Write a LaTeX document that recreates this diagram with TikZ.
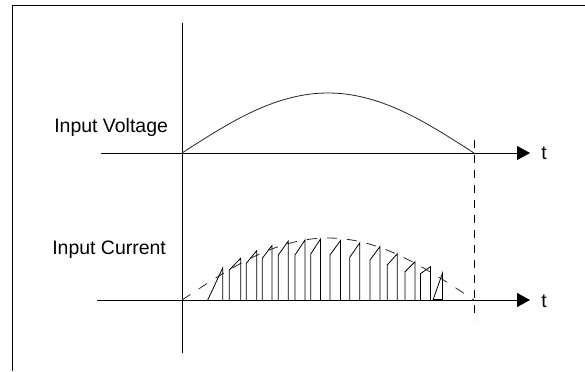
\documentclass[tikz,border=0pt]{standalone}
\usepackage{fontspec}
\setmainfont{Liberation Sans}
\usetikzlibrary{arrows.meta}
\tikzset{
  frame/.style={line width=0.75pt},
  timeaxis/.style={line width=0.75pt, -{Triangle[length=9.75pt,width=10.5pt]}},
  wave/.style={line width=0.6pt, black!85},
  envelope/.style={line width=0.6pt, black!85, dash pattern=on 7.5pt off 7.5pt},
  marker/.style={line width=0.6pt, dash pattern=on 6.25pt off 5pt},
  pulse/.style={line width=0.6pt},
  axistext/.style={font=\fontsize{14.6}{17}\selectfont, inner sep=0pt},
}

\begin{document}
\begin{tikzpicture}[x=0.75pt, y=-0.75pt]
  \useasboundingbox (0,0) rectangle (585,371);
  \draw[frame] (12,371) -- (12,5) -- (585,5);

  \coordinate (vorigin) at (182,153);
  \coordinate (iorigin) at (182,300);

  % axes
  \draw[frame] (182,23) -- (182,353);
  \draw[timeaxis] (101,153) -- (530,153);
  \draw[timeaxis] (97,300) -- (530,300);
  \draw[marker] (474,140) -- (474,320);

  % voltage half wave and current envelope
  \draw[wave] plot[domain=0:180, samples=60] ({182+1.6222*\x}, {153-60*sin(\x)});
  \draw[envelope] plot[domain=0:180, samples=60] ({182+1.6222*\x}, {300-62*sin(\x)});

  % current pulses
  \foreach \xa/\ya/\xb/\yb in {207.7/300/222.7/268, 229.3/270/240.7/258.3,
      246.3/263.3/256.7/250.7, 262.3/258.3/272/245.5, 278.3/255/288.3/241,
      295/255/305/240, 310.7/254/320.5/239, 330/255/340.5/240.5,
      349.7/257.3/359.7/243, 370/260/380/246.5, 387.3/265/397.3/253.7,
      405/271.7/415/261.7, 420.5/273.7/430.5/266.7, 433/300/442.5/273}
    \draw[pulse] (\xa,300) -- (\xa,\ya) -- (\xb,\yb) -- (\xb,300);
  \draw[line width=1.4pt] (433,300) -- (442.5,300);

  \node[axistext, anchor=base west] (vlabel) at (54,132) {Input Voltage};
  \node[axistext, anchor=base west] (ilabel) at (52,254) {Input Current};
  \node[axistext, anchor=west] (vt) at (541,153) {t};
  \node[axistext, anchor=west] (it) at (541,301) {t};
\end{tikzpicture}
\end{document}
